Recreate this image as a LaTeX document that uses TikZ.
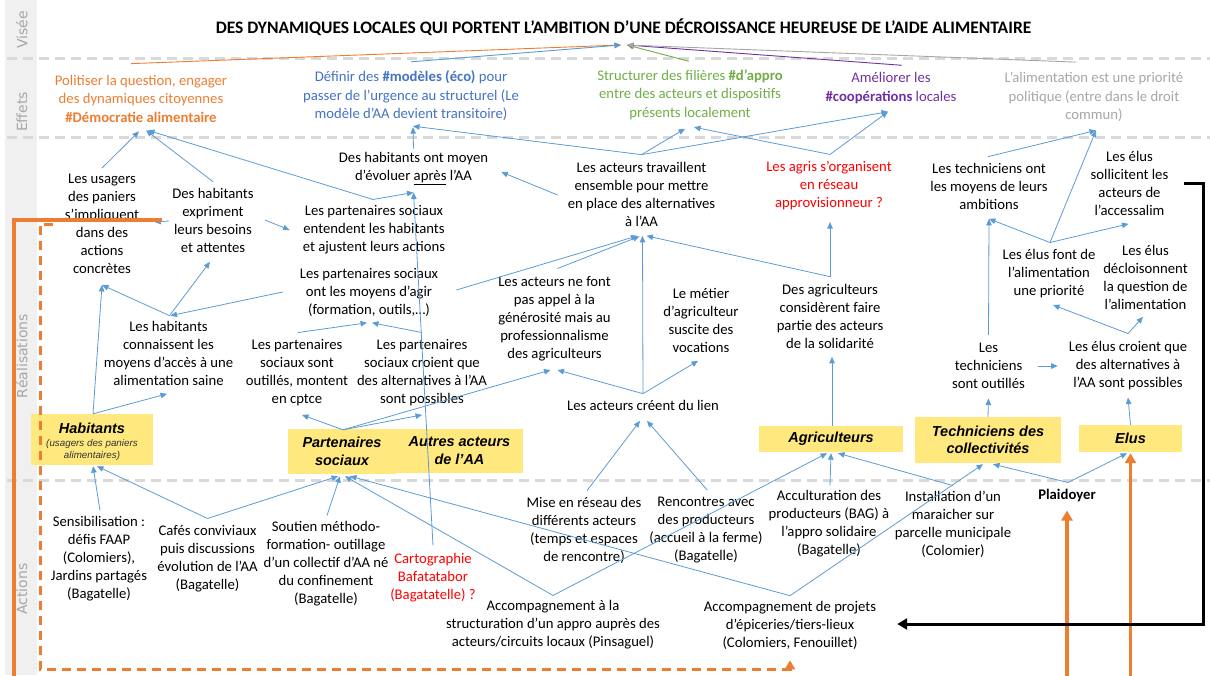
\documentclass[tikz,border=0pt]{standalone}
\usepackage{fontspec}
\setmainfont{Carlito}
\newfontfamily\arialfont{Liberation Sans}
\newfontfamily\sidefont{DejaVu Sans}
\usetikzlibrary{arrows.meta,calc}

\definecolor{connblue}{HTML}{5B9BD5}
\definecolor{txtorange}{HTML}{ED7D31}
\definecolor{txtblue}{HTML}{4472C4}
\definecolor{txtgreen}{HTML}{70AD47}
\definecolor{txtpurple}{HTML}{7030A0}
\definecolor{txtgrey}{HTML}{A6A6A6}
\definecolor{txtred}{HTML}{FF0000}
\definecolor{boxyellow}{HTML}{FFE97F}
\definecolor{sepgrey}{HTML}{D9D9D9}
\definecolor{stripgrey}{HTML}{F0F0F0}
\definecolor{accorange}{HTML}{ED7D31}

\tikzset{
  txt/.style={align=center, inner sep=3pt, text=black, font=\fontsize{14.7}{18}\selectfont},
  eff/.style={align=center, inner sep=3pt, font=\fontsize{14.7}{18.5}\selectfont},
  ybox/.style={fill=boxyellow, draw=none, align=center, inner sep=0pt,
    font=\arialfont\bfseries\itshape\fontsize{14.5}{18}\selectfont},
  boxlbl/.style={align=center, inner sep=0pt, font=\arialfont\bfseries\itshape\fontsize{14.5}{18}\selectfont},
  smalllbl/.style={align=center, inner sep=0pt, text=black!80, font=\arialfont\itshape\fontsize{9.8}{12}\selectfont},
  side/.style={rotate=90, text=txtgrey, font=\sidefont\fontsize{14}{16}\selectfont},
  conn/.style={draw=connblue, line width=0.8pt, -{Triangle[length=6.5pt,width=5.5pt]}},
  vis/.style={line width=0.9pt, -{Triangle[length=6.5pt,width=5.5pt]}},
  sep/.style={draw=sepgrey, line width=3pt, dash pattern=on 10pt off 6pt},
  orline/.style={draw=accorange, line width=3.4pt},
  orarrow/.style={draw=accorange, line width=3.4pt, -{Triangle[length=10pt,width=11pt]}},
  ordash/.style={draw=accorange, line width=3pt, dash pattern=on 9pt off 6pt, -{Triangle[length=9pt,width=10pt]}},
  blkarrow/.style={draw=black, line width=3pt, -{Triangle[length=10pt,width=11pt]}}
}

\begin{document}
\begin{tikzpicture}[x=1pt,y=-1pt]
\useasboundingbox (0,0) rectangle (1210,675);

% side band with the level names
\fill[stripgrey] (5,0) rectangle (37,675);
\node[side] (lVis) at (22,30) {Visée};
\node[side] (lEff) at (22,112) {Effets};
\node[side] (lRea) at (22,356) {Réalisations};
\node[side] (lAct) at (22,589) {Actions};

% level separators
\draw[sep] (7,58) -- (1210,58);
\draw[sep] (7,137) -- (1210,137);
\draw[sep] (7,480) -- (1210,480);

% title
\node[font=\bfseries\fontsize{17.5}{21}\selectfont, inner sep=0pt] (title) at (623.5,27)
  {DES DYNAMIQUES LOCALES QUI PORTENT L’AMBITION D’UNE DÉCROISSANCE HEUREUSE DE L’AIDE ALIMENTAIRE};
\coordinate (visL) at (621,45);
\coordinate (visR) at (627,45);

% effects
\node[eff, text=txtorange] (eOr) at (141,98.5) {Politiser la question, engager\\des dynamiques citoyennes\\\textbf{\#Démocratie alimentaire}};
\node[eff, text=txtblue] (eBl) at (411,96) {Définir des \textbf{\#modèles (éco)} pour\\passer de l’urgence au structurel (Le\\modèle d’AA devient transitoire)};
\node[eff, text=txtgreen] (eGr) at (690,94.5) {Structurer des filières \textbf{\#d’appro}\\entre des acteurs et dispositifs\\présents localement};
\node[eff, text=txtpurple] (ePu) at (891,88) {Améliorer les\\\textbf{\#coopérations} locales};
\node[eff, text=txtgrey] (eGy) at (1094,97) {L’alimentation est une priorité\\politique (entre dans le droit\\commun)};

% achievements
\node[txt] (A) at (102,224) {Les usagers\\des paniers\\s’impliquent\\dans des\\actions\\concrètes};
\node[txt] (B) at (213,220) {Des habitants\\expriment\\leurs besoins\\et attentes};
\node[txt] (C) at (374,230) {Les partenaires sociaux\\entendent les habitants\\et ajustent leurs actions};
\node[txt] (D) at (369,292) {Les partenaires sociaux\\ont les moyens d’agir\\(formation, outils,…)};
\node[txt] (E) at (413.5,169) {Des habitants ont moyen\\d’évoluer \underline{après} l’AA};
\node[txt] (F) at (641.5,194) {Les acteurs travaillent\\ensemble pour mettre\\en place des alternatives\\à l’AA};
\node[txt, text=txtred] (G) at (829,185) {Les agris s’organisent\\en réseau\\approvisionneur ?};
\node[txt] (H) at (989,186) {Les techniciens ont\\les moyens de leurs\\ambitions};
\node[txt] (I) at (1129.5,183) {Les élus\\sollicitent les\\acteurs de\\l’accessalim};
\node[txt] (J) at (1049,274) {Les élus font de\\l’alimentation\\une priorité};
\node[txt] (K) at (1145.5,277) {Les élus\\décloisonnent\\la question de\\l’alimentation};
\node[txt] (L) at (168.5,353) {Les habitants\\connaissent les\\moyens d’accès à une\\alimentation saine};
\node[txt] (M) at (297,373) {Les partenaires\\sociaux sont\\outillés, montent\\en cptce};
\node[txt] (N) at (422,373) {Les partenaires\\sociaux croient que\\des alternatives à l’AA\\sont possibles};
\node[txt] (O) at (554.5,319) {Les acteurs ne font\\pas appel à la\\générosité mais au\\professionnalisme\\des agriculteurs};
\node[txt] (P) at (701,320) {Le métier\\d’agriculteur\\suscite des\\vocations};
\node[txt] (Q) at (830,316) {Des agriculteurs\\considèrent faire\\partie des acteurs\\de la solidarité};
\node[txt] (R) at (643,405) {Les acteurs créent du lien};
\node[txt] (S) at (988.5,366) {Les\\techniciens\\sont outillés};
\node[txt] (T) at (1128,366) {Les élus croient que\\des alternatives à\\l’AA sont possibles};

% actor boxes
\node[ybox, minimum width=122pt, minimum height=51pt] (bHab) at (92,439.5) {};
\node[boxlbl] (habT) at (92,428) {Habitants};
\node[smalllbl] (habS) at (92,449.5) {(usagers des paniers\\alimentaires)};
\node[ybox, minimum width=108pt, minimum height=45pt] (bPar) at (342,451.5) {Partenaires\\sociaux};
\node[ybox, minimum width=127pt, minimum height=44pt] (bAut) at (459.5,451) {Autres acteurs\\de l’AA};
\node[ybox, minimum width=144pt, minimum height=26pt] (bAgr) at (831,439) {Agriculteurs};
\node[ybox, minimum width=146pt, minimum height=46pt, font=\arialfont\bfseries\itshape\fontsize{14.5}{17}\selectfont] (bTec) at (988,440) {Techniciens des\\collectivités};
\node[ybox, minimum width=103pt, minimum height=27pt] (bElu) at (1130.5,438.5) {Elus};

% actions
\node[txt] (a1) at (99,559) {Sensibilisation :\\défis FAAP\\(Colomiers),\\Jardins partagés\\(Bagatelle)};
\node[txt] (a2) at (207.5,559) {Cafés conviviaux\\puis discussions\\évolution de l’AA\\(Bagatelle)};
\node[txt] (a3) at (326,564) {Soutien méthodo-\\formation- outillage\\d’un collectif d’AA né\\du confinement\\(Bagatelle)};
\node[txt, text=txtred] (a4) at (433,578) {Cartographie\\Bafatatabor\\(Bagatatelle) ?};
\node[txt] (a5) at (553,625) {Accompagnement à la\\structuration d’un appro auprès des\\acteurs/circuits locaux (Pinsaguel)};
\node[txt] (a6) at (584,530) {Mise en réseau des\\différents acteurs\\(temps et espaces\\de rencontre)};
\node[txt] (a7) at (706,530) {Rencontres avec\\des producteurs\\(accueil à la ferme)\\(Bagatelle)};
\node[txt] (a8) at (829,524) {Acculturation des\\producteurs (BAG) à\\l’appro solidaire\\(Bagatelle)};
\node[txt] (a9) at (953,524) {Installation d’un\\maraicher sur\\parcelle municipale\\(Colomier)};
\node[txt, font=\bfseries\fontsize{14.7}{18}\selectfont] (a10) at (1067,495) {Plaidoyer};
\node[txt] (a11) at (790,625) {Accompagnement de projets\\d’épiceries/tiers-lieux\\(Colomiers, Fenouillet)};

% effects towards the aim
\draw[vis, draw=txtorange] ($(eOr.north)+(-10,-8)$) -- (visL);
\draw[vis, draw=txtgreen] ($(eGr.north)+(-1,-5)$) -- (visR);
\draw[vis, draw=txtpurple] ($(ePu.north)+(11,-4)$) -- (visR);
\draw[vis, draw=txtgrey] ($(eGy.north)+(-18,-7)$) -- (visR);
\draw[vis, draw=connblue] ($(eBl.north)+(0,-6)$) -- (visL);

% achievements towards effects
\draw[conn] ($(A.north)+(0,-3)$) -- ($(eOr.south)+(-2,6)$);
\draw[conn] ($(B.north)+(0,-3)$) -- ($(eOr.south)+(5,5)$);
\draw[conn] ($(C.north)+(-1,-3)$) -- ($(eOr.south)+(7,5)$);
\draw[conn] ($(C.north)+(-1,-3)$) -- ($(E.south)+(0,4)$);
\draw[conn] ($(E.north)+(0,-1)$) -- ($(eBl.south)+(2,3)$);
\draw[conn] ($(F.north)+(0,-4)$) -- ($(eBl.south)+(2,2)$);
\draw[conn] ($(F.north)+(0,-4)$) -- ($(eGr.south)+(-5,6)$);
\draw[conn] ($(F.north)+(0,-4)$) -- ($(ePu.south)+(-3,5)$);
\draw[conn] ($(G.north)+(1,-3)$) -- ($(eGr.south)+(4,4.5)$);
\draw[conn] ($(G.north)+(1,-3)$) -- ($(ePu.south)+(-3,5)$);
\draw[conn] ($(H.north)+(-1,-3)$) -- ($(eGy.south)+(2,5.5)$);
\draw[conn] ($(J.north)+(1,-4)$) -- ($(eGy.south)+(2,5.5)$);

% links between achievements
\draw[conn] ($(F.west)+(-7,1)$) -- ($(E.east)+(10,3)$);
\draw[conn] ($(B.east)+(8,0)$) -- ($(C.west)+(-10,0)$);
\draw[conn] ($(B.west)+(0,1)$) -- ($(A.east)+(12,-2)$);
\draw[conn] ($(J.north)+(1,-4)$) -- ($(H.south)+(0,6.5)$);
\draw[conn] ($(J.north)+(1,-4)$) -- ($(I.south)+(-1,5.5)$);
\draw[conn] ($(L.north)+(1,-2)$) -- ($(A.south)+(0,8)$);
\draw[conn] ($(L.north)+(1,-2)$) -- ($(B.south)+(-3,6.5)$);
\draw[conn] ($(D.west)+(-14,0)$) -- ($(L.north)+(2,-2)$);
\draw[conn] ($(D.east)+(15,-2)$) -- ($(F.south)+(-4,6.5)$);
\draw[conn] ($(M.north)+(1,-4)$) -- ($(D.south)+(-2,3.5)$);
\draw[conn] ($(N.north)+(0,-4)$) -- ($(D.south)+(3,3.5)$);
\draw[conn] ($(O.north)+(3,-5)$) -- ($(F.south)+(-2,7)$);
\draw[conn] ($(Q.north)+(0,-4)$) -- ($(F.south)+(5,6.5)$);
\draw[conn] ($(Q.north)+(0,-4)$) -- ($(G.south)+(1,9.5)$);
\draw[conn] ($(R.north)+(0,-3)$) -- ($(F.south)+(1,6.5)$);
\draw[conn] ($(R.north)+(0,-3)$) -- ($(O.south)+(3,5.5)$);
\draw[conn] ($(R.north)+(0,-3)$) -- ($(P.south)+(-3,5.5)$);
\draw[conn] ($(S.north)+(0,-5)$) -- ($(H.south)+(0,6.5)$);
\draw[conn] ($(S.east)+(10,0)$) -- ($(T.west)+(-8,0)$);
\draw[conn] ($(T.north)+(0,-5)$) -- ($(J.south)+(4,3.5)$);
\draw[conn] ($(T.north)+(0,-5)$) -- ($(K.south)+(-2.5,4.5)$);

% actors towards achievements
\draw[conn] ($(bHab.north)+(1,0)$) -- ($(A.south)+(0,8)$);
\draw[conn] ($(bHab.north)+(1,0)$) -- ($(L.south)+(-1.5,5.5)$);
\draw[conn] ($(bPar.north)+(1,1)$) -- ($(M.south)+(5,5.5)$);
\draw[conn] ($(bPar.north)+(1,1)$) -- ($(N.south)+(0,5.5)$);
\draw[conn] ($(bPar.north)+(1,1)$) -- ($(O.south)+(-4,5.5)$);
\draw[conn] ($(bAgr.north)+(1,0)$) -- ($(Q.south)+(2,5.5)$);
\draw[conn] (bTec.north) -- ($(S.south)+(0,6.5)$);
\draw[conn] (bElu.north) -- ($(T.south)+(0,4)$);
\draw[conn] ($(a4.north)+(0,-5)$) -- ($(E.south)+(0,4)$);

% actions towards actors
\draw[conn] ($(a1.north)+(1,-3)$) -- ($(bHab.south)+(1,1)$);
\draw[conn] ($(a2.north)+(0,-4)$) -- ($(bHab.south)+(5,1)$);
\draw[conn] ($(a2.north)+(0,-4)$) -- ($(bPar.south)+(-4,2)$);
\draw[conn] ($(a3.north)+(1,-3)$) -- ($(bPar.south)+(-2,2)$);
\draw[conn] ($(a5.north)+(0,-2)$) -- ($(bPar.south)+(3,2)$);
\draw[conn] ($(a5.north)+(0,-2)$) -- ($(bAgr.south)+(-4,1)$);
\draw[conn] ($(a11.north)+(0,-2)$) -- ($(bPar.south)+(8,2)$);
\draw[conn] ($(a11.north)+(0,-2)$) -- ($(bTec.south)+(-5,1)$);
\draw[conn] ($(a6.north)+(3,-3)$) -- ($(R.south)+(-3,7.5)$);
\draw[conn] ($(a7.north)+(1,-4)$) -- ($(R.south)+(4,7.5)$);
\draw[conn] ($(a8.north)+(1,-2)$) -- ($(bAgr.south)+(0,1)$);
\draw[conn] ($(a9.north)+(0,-2)$) -- ($(bAgr.south)+(7,1)$);
\draw[conn] ($(a10.north)+(1,-3)$) -- ($(bTec.south)+(5,1)$);
\draw[conn] ($(a10.north)+(1,-3)$) -- ($(bElu.south)+(-3.5,1)$);

% orange frames (the lower run lies on the page edge)
\coordinate (orTop) at (162,220);
\coordinate (orBot) at (14,677.5);
\draw[orline] (orTop) -- (orTop -| orBot) -- (orBot) -- ++(1116,0);
\draw[orarrow] (orBot -| a10.south) -- ($(a10.south)+(0,6)$);
\draw[orarrow] (orBot -| bElu.south) -- ($(bElu.south)+(0,1)$);
\coordinate (dashTop) at (53,224);
\draw[ordash] (dashTop) -- ++(-13,0) -- ++(0,445) -| ($(a11.south)+(0,8)$);

% black return arrow
\draw[blkarrow] ($(I.east)+(13,0)$) -- ++(19,0) |- ($(a11.east)+(18,-1)$);
\end{tikzpicture}
\end{document}
